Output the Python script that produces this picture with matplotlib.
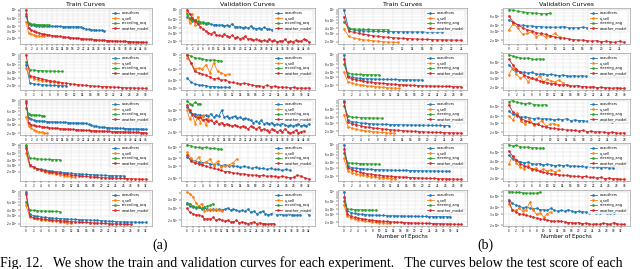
import matplotlib
matplotlib.use("Agg")
import matplotlib.pyplot as plt

# legend labels
labels_a = ["coauthors", "u_sell", "recording_acq", "weather_model"]
labels_b = ["coauthors", "u_sell", "steering_ang", "weather_model"]
colors = ["tab:blue", "tab:orange", "tab:green", "tab:red"]

# ---- (a) train curves ----
ta1_blue = [7.0, 4.4, 4.2, 4.1, 4.05, 4.0, 3.98, 3.95, 3.93, 3.9, 3.88, 3.86, 3.85, 3.84, 3.83, 3.82, 3.81, 3.8, 3.79, 3.78, 3.77, 3.75, 3.5, 3.3, 3.25, 3.2, 3.15, 3.12, 3.1, 3.08, 3.05]
ta1_orange = [5.0, 2.6, 2.45, 2.35, 2.3, 2.25, 2.2, 2.18]
ta1_green = [8.0, 4.6, 4.4, 4.35, 4.3, 4.28, 4.25, 4.22, 4.2, 4.18]
ta1_red = [10.0, 3.5, 3.1, 2.9, 2.75, 2.65, 2.55, 2.48, 2.42, 2.36, 2.3, 2.26, 2.22, 2.18, 2.14, 2.1, 2.07, 2.04, 2.01, 1.98, 1.95, 1.93, 1.9, 1.88, 1.86, 1.84, 1.82, 1.8, 1.78, 1.76, 1.75, 1.73, 1.72, 1.7, 1.69, 1.68, 1.66, 1.65, 1.64, 1.63, 1.62, 1.61, 1.6, 1.59, 1.58, 1.57, 1.56]

ta2_blue = [6.0, 2.3, 2.2, 2.15, 2.1, 2.08, 2.05, 2.03, 2.02, 2.0, 2.0]
ta2_orange = [5.0, 3.2, 2.9, 2.7, 2.6, 2.5, 2.45, 2.4, 2.35]
ta2_green = [7.0, 4.6, 4.5, 4.4, 4.35, 4.3, 4.28, 4.25, 4.22, 4.2]
ta2_red = [10.0, 3.4, 3.2, 3.0, 2.85, 2.7, 2.6, 2.5, 2.42, 2.35, 2.28, 2.22, 2.16, 2.12, 2.08, 2.04, 2.0, 1.97, 1.94, 1.92, 1.9, 1.88, 1.86, 1.84, 1.82, 1.8, 1.79, 1.78, 1.77, 1.76, 1.75]

ta3_blue = [9.0, 4.2, 3.9, 3.8, 3.7, 3.65, 3.6, 3.55, 3.5, 3.48, 3.46, 3.44, 3.42, 3.4, 3.38, 3.36, 3.34, 3.32, 3.3, 3.28, 3.26, 3.24, 3.22, 3.2, 3.05, 2.9, 2.8, 2.75, 2.7, 2.66, 2.62, 2.6, 2.58, 2.56, 2.54, 2.52, 2.5, 2.49, 2.48, 2.47, 2.46, 2.45, 2.44, 2.43, 2.42, 2.41, 2.4]
ta3_orange = [4.5, 2.8, 2.5, 2.3, 2.2, 2.1, 2.05, 2.0, 1.95]
ta3_green = [7.0, 5.2, 5.0, 4.9, 4.85, 4.8, 4.75, 4.7]
ta3_red = [10.0, 3.2, 3.0, 2.9, 2.8, 2.75, 2.7, 2.66, 2.62, 2.58, 2.55, 2.52, 2.5, 2.47, 2.45, 2.43, 2.41, 2.39, 2.37, 2.35, 2.33, 2.31, 2.29, 2.27, 2.25, 2.23, 2.21, 2.2, 2.19, 2.18, 2.17, 2.16, 2.15, 2.14, 2.13, 2.12, 2.11, 2.1, 2.09, 2.08, 2.07, 2.06, 2.05, 2.04, 2.03, 2.02, 2.01]

ta4_blue = [9.0, 3.0, 2.6, 2.4, 2.3, 2.2, 2.1, 2.05, 2.0, 1.95, 1.9, 1.86, 1.82, 1.78, 1.75, 1.72, 1.7, 1.68, 1.66, 1.64, 1.62, 1.6, 1.59, 1.58, 1.57, 1.56, 1.55]
ta4_orange = [6.0, 2.8, 2.5, 2.3, 2.15, 2.0, 1.9, 1.8, 1.72, 1.65, 1.58, 1.52, 1.47, 1.43]
ta4_green = [10.0, 4.6, 4.4, 4.3, 4.25, 4.2, 4.15, 4.12, 4.1, 4.08]
ta4_red = [8.0, 3.0, 2.6, 2.4, 2.25, 2.12, 2.02, 1.94, 1.87, 1.8, 1.74, 1.69, 1.64, 1.6, 1.56, 1.53, 1.5, 1.47, 1.45, 1.43, 1.41, 1.39, 1.37, 1.36, 1.35, 1.34, 1.33, 1.32, 1.31, 1.3, 1.29, 1.28, 1.27]

ta5_blue = [10.0, 3.2, 3.0, 2.9, 2.8, 2.75, 2.7, 2.65, 2.6, 2.58, 2.55, 2.52, 2.5, 2.48, 2.46, 2.44, 2.42, 2.4, 2.38, 2.36, 2.34, 2.3, 2.26, 2.24, 2.22, 2.2, 2.19, 2.18, 2.17, 2.16, 2.15, 2.14, 2.13]
ta5_orange = [5.0, 2.8, 2.6, 2.5, 2.45, 2.4, 2.35, 2.3, 2.25, 2.2, 2.15, 2.1, 2.05]
ta5_green = [6.0, 4.0, 3.9, 3.85, 3.8, 3.78, 3.75, 3.72, 3.7, 3.68]
ta5_red = [9.0, 2.9, 2.7, 2.6, 2.55, 2.5, 2.45, 2.4, 2.36, 2.32, 2.28, 2.25, 2.22, 2.19, 2.16, 2.14, 2.12, 2.1, 2.08, 2.06, 2.04, 2.02, 2.0, 1.98, 1.97, 1.96, 1.95, 1.94, 1.93]

# ---- (a) validation curves ----
va1_blue = [7.0, 6.2, 5.5, 5.8, 5.2, 5.0, 5.3, 4.9, 5.0, 4.8, 4.6, 4.7, 4.5, 4.6, 4.4, 4.5, 4.3, 4.9, 4.2, 4.1, 4.2, 4.0, 4.1, 3.9, 4.3, 3.9, 3.8, 3.9, 3.7, 4.1, 3.8, 3.7, 3.6, 3.8, 3.5, 3.7, 3.6, 3.9, 3.6]
va1_orange = [9.0, 5.0, 8.0, 4.5, 7.0, 5.0]
va1_green = [8.0, 6.5, 6.0, 5.8, 5.5, 5.3, 5.2, 5.0, 5.0]
va1_red = [10.0, 8.0, 6.5, 5.5, 4.8, 4.2, 3.8, 3.4, 3.1, 2.9, 3.2, 2.8, 2.7, 2.6, 2.9, 2.6, 2.5, 2.7, 2.4, 2.5, 2.3, 2.4, 2.6, 2.2, 2.3, 2.1, 2.2, 2.1, 2.0, 2.1, 2.0, 2.2, 2.0, 2.1, 1.95, 2.05, 2.0, 2.2, 1.9, 2.0, 1.95, 2.1, 2.0, 2.05, 2.2, 2.15, 1.95]

va2_blue = [4.3, 3.8, 3.5, 3.4, 3.35, 3.3, 3.2, 3.2, 3.15, 3.1, 3.15, 3.1]
va2_orange = [9.0, 7.5, 6.0, 6.2, 6.0, 7.0, 5.2, 7.5, 5.5, 5.2, 4.9, 5.0]
va2_green = [10.0, 9.5, 9.0, 8.8, 8.6, 8.4, 8.2, 8.3, 8.1, 8.0]
va2_red = [10.0, 7.5, 5.5, 5.2, 5.0, 4.8, 4.5, 4.2, 4.3, 4.0, 4.1, 3.8, 3.7, 3.6, 3.5, 3.6, 3.5, 3.4, 3.3, 3.3, 3.2, 3.35, 3.2, 3.25, 3.1, 3.15, 3.1, 3.05, 3.1, 3.0, 3.05, 3.0, 3.05]

va3_blue = [4.5, 3.8, 3.5, 3.6, 3.4, 3.5, 3.3, 3.4, 3.3, 3.6, 3.2, 3.4, 3.3, 4.0, 3.2, 3.3, 3.1, 3.2, 3.3, 3.1, 3.2, 3.0, 3.1, 3.0, 2.9, 2.7, 2.8, 2.7, 2.9, 2.6, 2.7, 2.6, 2.7, 2.5, 2.6, 2.5, 2.7, 2.5, 2.4, 2.5, 2.4, 2.5, 2.6, 2.4, 2.5, 2.4, 2.6]
va3_orange = [4.0, 3.0, 3.6, 2.6, 3.3, 2.7, 3.4, 2.5, 3.0]
va3_green = [5.5, 5.0, 4.8, 5.2, 4.9, 5.0]
va3_red = [4.8, 4.0, 3.6, 3.3, 3.1, 3.2, 2.9, 3.0, 2.8, 2.9, 2.7, 2.8, 2.6, 2.7, 2.5, 2.6, 2.5, 2.4, 2.5, 2.4, 2.3, 2.4, 2.3, 2.2, 2.4, 2.3, 2.2, 2.3, 2.1, 2.2, 2.1, 2.0, 2.2, 2.1, 2.0, 2.1, 2.0, 2.2, 2.0, 1.9, 2.0, 2.1, 1.95, 2.0, 2.05]

va4_blue = [4.2, 3.8, 3.6, 3.5, 3.4, 3.5, 3.3, 3.2, 3.3, 3.1, 3.2, 3.0, 3.1, 3.0, 2.9, 3.0, 2.9, 2.8, 2.9, 2.8, 2.8, 2.7, 2.8, 2.7, 2.7, 2.6, 2.7, 2.6]
va4_orange = [5.0, 4.0, 3.5, 4.2, 3.3, 3.5, 3.9, 3.2, 3.6, 2.9, 3.1, 3.2, 3.4, 3.9]
va4_green = [6.5, 6.2, 6.0, 5.9, 5.8, 5.9, 5.7, 5.7, 5.6, 5.6]
va4_red = [4.5, 3.6, 3.4, 3.3, 3.2, 3.0, 2.9, 2.8, 2.7, 2.6, 2.5, 2.5, 2.4, 2.35, 2.3, 2.3, 2.25, 2.2, 2.2, 2.15, 2.2, 2.1, 2.15, 2.1, 2.05, 2.1, 2.05, 2.0, 2.05, 2.2, 2.1, 2.0, 1.9]

va5_blue = [3.6, 3.2, 3.1, 3.0, 3.1, 2.9, 3.0, 2.9, 2.8, 2.9, 2.8, 2.9, 2.8, 2.9, 3.0, 2.8, 2.9, 2.8, 2.7, 2.8, 2.7, 2.9, 2.6, 2.7, 2.5, 2.6, 2.7, 2.5, 2.4, 2.5, 2.6, 2.4, 2.5, 2.4, 2.4, 2.5, 2.4, 2.4, 2.4, 2.4, 3.0, 2.6, 2.4]
va5_orange = [5.2, 4.8, 4.4, 3.6, 3.2, 3.5, 2.7, 2.8, 2.9, 2.8, 2.9, 2.8, 2.7]
va5_green = [3.4, 3.5, 3.2, 3.1, 3.1, 3.0, 3.1, 3.2, 3.3, 3.5]
va5_red = [3.0, 2.6, 2.5, 2.4, 2.4, 2.3, 2.1, 2.1, 2.1, 2.2, 2.0, 2.1, 2.0, 1.95, 2.0, 1.9, 1.9, 2.0, 1.85, 1.9, 1.85, 1.8, 1.85, 1.9, 1.8, 1.85, 1.8, 1.8, 1.75, 1.8, 1.8]

# ---- (b) train curves ----
tb1_blue = [10.0, 3.8, 3.6, 3.5, 3.45, 3.4, 3.38, 3.36, 3.34, 3.32, 3.3, 3.3, 3.28, 3.28, 3.26, 3.26, 3.25, 3.25, 3.24, 3.24, 3.23]
tb1_orange = [3.8, 2.6, 2.4, 2.3, 2.2, 2.15, 2.1, 2.05, 2.0, 1.97, 1.95, 1.93]
tb1_green = [5.5, 3.9, 3.8, 3.75, 3.7, 3.7, 3.68, 3.66, 3.65, 3.64]
tb1_red = [7.0, 3.4, 3.2, 3.05, 2.9, 2.8, 2.7, 2.62, 2.55, 2.5, 2.45, 2.4, 2.37, 2.34, 2.31, 2.28, 2.26, 2.24, 2.22, 2.2, 2.19, 2.18, 2.17, 2.16, 2.15]

tb2_blue = [10.0, 3.2, 3.0, 2.9, 2.85, 2.8, 2.78, 2.76, 2.74, 2.72, 2.7, 2.69, 2.68, 2.67, 2.66, 2.65, 2.64, 2.63, 2.62, 2.61, 2.6]
tb2_orange = [4.0, 2.4, 2.2, 2.1, 2.0, 1.95, 1.9, 1.86, 1.82, 1.79, 1.76, 1.73, 1.71, 1.69, 1.67]
tb2_green = [6.0, 3.7, 3.6, 3.55, 3.5, 3.48, 3.46, 3.44, 3.42, 3.4]
tb2_red = [8.0, 3.0, 2.8, 2.65, 2.55, 2.45, 2.38, 2.32, 2.27, 2.22, 2.18, 2.14, 2.1, 2.07, 2.04, 2.01, 1.99, 1.97, 1.95, 1.93, 1.91, 1.9, 1.89, 1.88, 1.87, 1.86, 1.85, 1.84, 1.83, 1.82, 1.81]

tb3_blue = [9.0, 3.4, 3.2, 3.1, 3.0, 2.95, 2.9, 2.87, 2.84, 2.82, 2.8, 2.78, 2.76, 2.75, 2.74, 2.73, 2.72, 2.71, 2.7, 2.69, 2.68, 2.67, 2.66, 2.65, 2.64, 2.63]
tb3_orange = [4.5, 2.5, 2.3, 2.2, 2.1, 2.05, 2.0, 1.96, 1.92, 1.89, 1.86, 1.83, 1.8]
tb3_green = [7.0, 4.2, 4.0, 3.95, 3.9, 3.88, 3.86, 3.84, 3.82, 3.8]
tb3_red = [8.5, 3.1, 2.9, 2.75, 2.6, 2.5, 2.42, 2.35, 2.3, 2.25, 2.2, 2.16, 2.12, 2.09, 2.06, 2.03, 2.0, 1.98, 1.96, 1.94, 1.92, 1.9, 1.89, 1.88, 1.87, 1.86, 1.85, 1.84, 1.83]

tb4_blue = [10.0, 3.3, 3.1, 3.0, 2.95, 2.9, 2.86, 2.83, 2.8, 2.78, 2.76, 2.74, 2.72, 2.7, 2.69, 2.68, 2.67, 2.66, 2.65, 2.64, 2.63, 2.62, 2.61, 2.6, 2.59, 2.58, 2.57, 2.56]
tb4_orange = [5.0, 2.6, 2.4, 2.25, 2.15, 2.07, 2.0, 1.95, 1.9, 1.86, 1.82, 1.79, 1.76, 1.74]
tb4_green = [6.5, 4.0, 3.9, 3.85, 3.8, 3.78, 3.76, 3.74, 3.72, 3.7]
tb4_red = [8.0, 3.1, 2.8, 2.6, 2.45, 2.35, 2.27, 2.2, 2.14, 2.09, 2.05, 2.01, 1.98, 1.95, 1.92, 1.9, 1.88, 1.86, 1.84, 1.82, 1.8, 1.79, 1.78, 1.77, 1.76, 1.75, 1.74, 1.73, 1.72, 1.71, 1.7]

tb5_blue = [10.0, 3.6, 3.3, 3.15, 3.05, 3.0, 2.96, 2.92, 2.89, 2.86, 2.84, 2.82, 2.8, 2.78, 2.77, 2.76, 2.75, 2.74, 2.73, 2.72, 2.71, 2.7, 2.69, 2.68, 2.67, 2.66, 2.65, 2.65, 2.64, 2.64, 2.63]
tb5_orange = [5.0, 2.7, 2.5, 2.35, 2.25, 2.17, 2.1, 2.05, 2.0, 1.96, 1.93, 1.9, 1.87, 1.85]
tb5_green = [6.0, 4.0, 3.9, 3.85, 3.82, 3.8, 3.78, 3.76, 3.75, 3.74]
tb5_red = [7.5, 3.0, 2.7, 2.55, 2.45, 2.37, 2.3, 2.24, 2.19, 2.15, 2.11, 2.08, 2.05, 2.02, 2.0, 1.98, 1.96, 1.94, 1.92, 1.9, 1.89, 1.88, 1.87, 1.86, 1.85, 1.84, 1.83, 1.82, 1.81, 1.8, 1.79, 1.78, 1.77, 1.76]

# ---- (b) validation curves ----
vb1_blue = [5.0, 4.4, 4.0, 3.9, 3.8, 3.8, 3.7, 3.7, 3.6, 3.6, 3.6, 3.6, 3.7, 3.5, 3.5, 3.5, 3.6, 3.5, 3.7, 3.4, 3.5]
vb1_orange = [3.2, 4.2, 3.4, 2.6, 2.7, 2.9, 2.3, 2.6, 2.3, 2.4, 2.7, 2.3]
vb1_green = [8.0, 7.8, 7.4, 7.2, 7.0, 6.9, 6.8, 6.7, 6.6, 6.8]
vb1_red = [6.0, 4.5, 4.0, 3.5, 3.2, 3.0, 2.8, 2.7, 2.6, 2.4, 2.3, 2.2, 2.2, 2.1, 2.05, 2.0, 2.0, 1.95, 1.9, 1.95, 1.85, 1.9, 1.85, 1.8, 1.9, 1.8]

vb2_blue = [5.5, 4.6, 4.2, 4.0, 3.9, 3.8, 3.9, 3.7, 3.6, 3.7, 3.5, 3.6, 3.5, 3.4, 3.5, 3.4, 3.3, 3.4, 3.3, 3.4, 3.3]
vb2_orange = [3.5, 4.8, 3.6, 3.0, 3.3, 2.6, 3.1, 2.8, 3.4, 2.6, 2.9, 2.7, 2.6, 2.8, 2.5]
vb2_green = [8.5, 8.0, 7.6, 7.4, 7.2, 7.4, 7.0, 6.9, 7.1, 6.9]
vb2_red = [7.0, 5.5, 4.5, 3.9, 3.5, 3.2, 3.0, 2.9, 2.7, 2.6, 2.5, 2.4, 2.4, 2.3, 2.25, 2.3, 2.2, 2.15, 2.2, 2.1, 2.1, 2.05, 2.1, 2.0, 2.05, 2.0, 2.0, 1.95, 2.0, 1.95, 1.95]

vb3_blue = [5.0, 4.3, 4.1, 3.8, 3.9, 3.7, 3.6, 3.7, 3.5, 3.6, 3.5, 3.4, 3.5, 3.4, 3.6, 3.3, 3.4, 3.3, 3.3, 3.2, 3.3, 3.2, 3.3, 3.2, 3.2, 3.1]
vb3_orange = [4.0, 3.4, 4.6, 3.2, 2.8, 3.6, 2.7, 2.9, 3.3, 2.6, 2.8, 2.9, 2.7]
vb3_green = [7.5, 7.8, 7.2, 7.0, 6.8, 7.1, 6.6, 6.5, 6.4, 6.6]
vb3_red = [6.5, 4.8, 4.2, 3.6, 3.3, 3.1, 2.9, 2.8, 2.6, 2.5, 2.4, 2.35, 2.3, 2.25, 2.2, 2.2, 2.15, 2.1, 2.15, 2.05, 2.1, 2.0, 2.05, 2.0, 1.95, 2.0, 1.95, 1.9, 1.95]

vb4_blue = [5.2, 4.5, 4.2, 4.0, 3.8, 3.9, 3.7, 3.6, 3.7, 3.5, 3.6, 3.5, 3.4, 3.5, 3.4, 3.5, 3.3, 3.4, 3.3, 3.3, 3.2, 3.3, 3.2, 3.2, 3.1, 3.2, 3.1, 3.1]
vb4_orange = [3.6, 5.0, 3.8, 3.2, 3.0, 3.5, 2.8, 3.1, 2.7, 3.0, 2.7, 2.9, 2.6, 2.8]
vb4_green = [8.0, 7.6, 7.8, 7.4, 7.2, 7.3, 7.0, 7.1, 6.9, 7.0]
vb4_red = [6.2, 5.0, 4.2, 3.7, 3.4, 3.2, 3.0, 2.85, 2.7, 2.6, 2.5, 2.45, 2.4, 2.35, 2.3, 2.3, 2.25, 2.2, 2.2, 2.15, 2.2, 2.1, 2.1, 2.05, 2.1, 2.0, 2.05, 2.0, 2.0, 1.95, 1.95]

vb5_blue = [5.3, 4.6, 4.3, 4.1, 3.9, 4.0, 3.8, 3.7, 3.8, 3.6, 3.6, 3.5, 3.8, 3.5, 3.4, 3.5, 3.4, 3.6, 3.4, 3.3, 3.4, 3.3, 3.3, 3.2, 3.4, 3.2, 3.2, 3.3, 3.2, 3.2, 3.2]
vb5_orange = [4.5, 3.6, 3.5, 3.8, 3.4, 3.6, 4.8, 3.5, 3.0, 3.2, 2.7, 3.1, 3.3]
vb5_green = [7.2, 7.1, 7.0, 7.0, 6.9, 6.8, 6.8, 6.8, 6.8, 7.1]
vb5_red = [5.0, 3.6, 3.3, 3.1, 3.0, 2.9, 2.8, 2.7, 2.6, 2.5, 2.5, 2.4, 2.35, 2.3, 2.35, 2.3, 2.25, 2.2, 2.2, 2.15, 2.2, 2.1, 2.15, 2.1, 2.05, 2.1, 2.05, 2.15, 2.1, 2.05, 2.2, 2.1, 2.05, 2.05]

# x tick upper limits for each panel (column, row)
xmax_a_train = [46, 30, 46, 32, 32]
xmax_a_val = [46, 32, 46, 32, 42]
xmax_b_train = [24, 30, 28, 30, 33]
xmax_b_val = [25, 30, 28, 30, 33]

columns = [
    ("Train Curves", labels_a, xmax_a_train,
     [[ta1_blue, ta1_orange, ta1_green, ta1_red], [ta2_blue, ta2_orange, ta2_green, ta2_red],
      [ta3_blue, ta3_orange, ta3_green, ta3_red], [ta4_blue, ta4_orange, ta4_green, ta4_red],
      [ta5_blue, ta5_orange, ta5_green, ta5_red]]),
    ("Validation Curves", labels_a, xmax_a_val,
     [[va1_blue, va1_orange, va1_green, va1_red], [va2_blue, va2_orange, va2_green, va2_red],
      [va3_blue, va3_orange, va3_green, va3_red], [va4_blue, va4_orange, va4_green, va4_red],
      [va5_blue, va5_orange, va5_green, va5_red]]),
    ("Train Curves", labels_b, xmax_b_train,
     [[tb1_blue, tb1_orange, tb1_green, tb1_red], [tb2_blue, tb2_orange, tb2_green, tb2_red],
      [tb3_blue, tb3_orange, tb3_green, tb3_red], [tb4_blue, tb4_orange, tb4_green, tb4_red],
      [tb5_blue, tb5_orange, tb5_green, tb5_red]]),
    ("Validation Curves", labels_b, xmax_b_val,
     [[vb1_blue, vb1_orange, vb1_green, vb1_red], [vb2_blue, vb2_orange, vb2_green, vb2_red],
      [vb3_blue, vb3_orange, vb3_green, vb3_red], [vb4_blue, vb4_orange, vb4_green, vb4_red],
      [vb5_blue, vb5_orange, vb5_green, vb5_red]]),
]

W, H = 640, 269
col_px = [(20, 152), (181, 315), (338, 467), (503, 630)]
row_px = [(8, 44), (53, 90), (99, 135), (143, 181), (190, 226)]

fig = plt.figure(figsize=(W / 100, H / 100), dpi=100)

for ci, (title, labels, xmaxes, rows) in enumerate(columns):
    x0, x1 = col_px[ci]
    for ri, series in enumerate(rows):
        y0, y1 = row_px[ri]
        ax = fig.add_axes([x0 / W, 1 - y1 / H, (x1 - x0) / W, (y1 - y0) / H])
        for vals, lab, c in zip(series, labels, colors):
            ax.plot(range(len(vals)), vals, "-", marker=".", color=c, label=lab,
                    lw=0.6, ms=1.8)
        ax.set_yscale("log")
        ax.set_xticks(range(0, xmaxes[ri] + 1, 2))
        ax.grid(True, which="both", lw=0.3, color="#dddddd")
        ax.tick_params(which="both", labelsize=2.0, length=1.2, width=0.3, pad=0.8)
        for s in ax.spines.values():
            s.set_linewidth(0.4)
            s.set_color("#888888")
        leg = ax.legend(loc="upper right", fontsize=2.5, handlelength=2.0, frameon=True,
                        borderpad=0.4, labelspacing=0.3, framealpha=0.9)
        leg.get_frame().set_linewidth(0.3)
        if ri == 0:
            ax.set_title(title, fontsize=4.5, pad=1.5)
        if ri == 4 and ci >= 2:
            ax.set_xlabel("Number of Epochs", fontsize=4, labelpad=1)

fig.text(160 / W, 1 - 245 / H, "(a)", fontsize=10, family="Liberation Serif",
         ha="center", va="center")
fig.text(485 / W, 1 - 245 / H, "(b)", fontsize=10, family="Liberation Serif",
         ha="center", va="center")
fig.text(0.0, 1 - 263 / H,
         "Fig. 12.   We show the train and validation curves for each experiment.   The curves below the test score of each",
         fontsize=10, family="Liberation Serif", ha="left", va="center")

fig.savefig("out.png", dpi=100)
